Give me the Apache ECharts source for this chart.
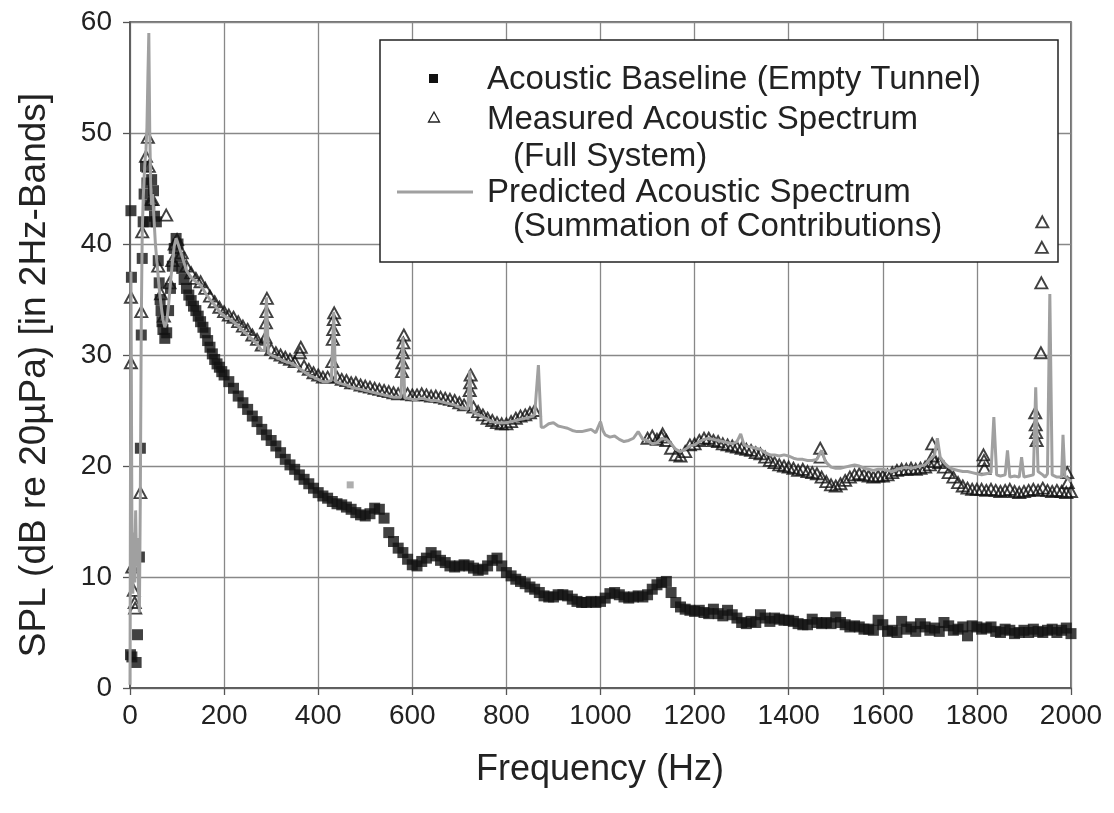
<!DOCTYPE html>
<html>
<head>
<meta charset="utf-8">
<title>SPL spectrum</title>
<script src="https://cdn.jsdelivr.net/npm/echarts@6/dist/echarts.min.js"></script>
<style>
  html, body { margin: 0; padding: 0; background: #fff; }
  #chart { width: 1114px; height: 813px; }
</style>
</head>
<body>
<div id="chart"></div>
<script>
// Frequency axis ticks (Hz) and SPL axis ticks (dB)
const freqTicks = [0, 200, 400, 600, 800, 1000, 1200, 1400, 1600, 1800, 2000];
const splTicks = [0, 10, 20, 30, 40, 50, 60];

// Acoustic baseline, empty tunnel: [frequency Hz, SPL dB]
const baseline = [
  [1,3.0],[2,43.0],[3,37.0],[4,2.8],[13,2.3],[16,4.8],[20,11.8],[22,21.6],[24,31.8],[26,38.7],
  [28,42.0],[30,44.5],[33,47.0],[36,45.5],[38,42.0],[42,43.5],[46,45.8],[50,44.8],[52,42.5],[56,42.0],
  [60,38.5],[62,36.5],[64,35.0],[66,34.0],[68,33.0],[70,32.3],[74,31.5],[78,32.0],[82,34.0],[86,36.0],
  [90,38.0],[94,39.6],[98,40.5],[102,40.0],[106,38.8],[110,37.8],[115,36.8],[120,36.0],[125,35.4],[130,34.9],
  [135,34.4],[140,34.0],[145,33.5],[150,33.0],[155,32.5],[160,32.0],[165,31.3],[170,30.7],[175,30.1],[180,29.6],
  [185,29.2],[190,28.9],[195,28.5],[200,28.2],[210,27.6],[220,27.0],[230,26.3],[240,25.7],[250,25.1],[260,24.5],
  [270,24.0],[280,23.3],[290,22.8],[300,22.3],[310,21.8],[320,21.2],[330,20.6],[340,20.1],[350,19.7],[360,19.2],
  [370,18.8],[380,18.4],[390,18.0],[400,17.6],[410,17.3],[420,17.1],[430,16.8],[440,16.6],[450,16.5],[460,16.3],
  [470,16.1],[480,15.8],[490,15.6],[500,15.5],[510,15.7],[520,16.2],[530,16.1],[540,15.3],[550,14.0],[560,13.2],
  [570,12.6],[580,12.2],[590,11.6],[600,11.1],[610,11.0],[620,11.4],[630,11.7],[640,12.2],[650,11.9],[660,11.5],
  [670,11.3],[680,11.0],[690,10.9],[700,11.0],[710,11.1],[720,11.0],[730,10.8],[740,10.6],[750,10.7],[760,11.0],
  [770,11.5],[780,11.7],[790,11.0],[800,10.4],[810,10.1],[820,9.8],[830,9.6],[840,9.4],[850,9.1],[860,8.9],
  [870,8.6],[880,8.3],[890,8.2],[900,8.2],[910,8.4],[920,8.4],[930,8.3],[940,8.0],[950,7.8],[960,7.7],
  [970,7.7],[980,7.8],[990,7.7],[1000,7.8],[1010,8.1],[1020,8.5],[1030,8.6],[1040,8.4],[1050,8.2],[1060,8.1],
  [1070,8.2],[1080,8.3],[1090,8.2],[1100,8.4],[1110,8.9],[1120,9.3],[1130,9.5],[1140,9.6],[1150,8.6],[1160,7.7],
  [1170,7.3],[1180,7.1],[1190,7.0],[1200,6.9],[1210,7.0],[1220,6.8],[1230,6.7],[1240,7.1],[1250,6.7],[1260,6.5],
  [1270,7.0],[1280,6.6],[1290,6.3],[1300,5.9],[1310,5.8],[1320,6.0],[1330,5.9],[1340,6.6],[1350,6.3],[1360,6.0],
  [1370,6.3],[1380,6.2],[1390,6.1],[1400,6.1],[1410,6.0],[1420,5.8],[1430,5.7],[1440,5.7],[1450,6.2],[1460,5.9],
  [1470,5.8],[1480,5.9],[1490,5.8],[1500,6.4],[1510,5.9],[1520,5.7],[1530,5.5],[1540,5.6],[1550,5.5],[1560,5.3],
  [1570,5.3],[1580,5.2],[1590,6.1],[1600,5.7],[1610,5.1],[1620,5.2],[1630,5.0],[1640,6.0],[1650,5.3],[1660,5.5],
  [1670,5.1],[1680,5.8],[1690,5.5],[1700,5.2],[1710,5.4],[1720,5.1],[1730,5.9],[1740,5.6],[1750,5.2],[1760,5.3],
  [1770,5.5],[1780,4.7],[1790,5.6],[1800,5.5],[1810,5.3],[1820,5.4],[1830,5.5],[1840,5.1],[1850,5.0],[1860,5.3],
  [1870,5.2],[1880,4.9],[1890,5.0],[1900,5.2],[1910,5.0],[1920,5.3],[1930,5.1],[1940,5.0],[1950,5.2],[1960,5.3],
  [1970,5.0],[1980,5.2],[1990,5.4],[2000,4.9]
];

// Measured acoustic spectrum, full system: [frequency Hz, SPL dB]
const measured = [
  [2,35.2],[2,29.3],[5,10.9],[8,8.8],[10,7.7],[11,7.2],[22,17.6],[24,33.9],[26,41.1],[34,47.9],
  [38,49.6],[40,47.0],[45,44.0],[48,44.0],[60,38.0],[66,35.5],[72,33.5],[77,42.6],[84,36.5],[90,38.5],
  [95,40.0],
  [100,40.4],[110,39.2],[120,38.0],[130,37.4],[140,36.9],[150,36.6],[160,36.0],[170,35.3],[180,34.8],[190,34.3],
  [200,33.9],[210,33.6],[220,33.4],[230,33.0],[240,32.6],[250,32.3],[260,31.8],[270,31.4],[280,30.9],
  [288,31.6],[289,32.9],[290,33.9],[291,35.1],
  [300,30.5],[310,30.2],[320,30.0],[330,29.8],[340,29.6],[350,29.4],[361,30.2],[363,30.7],[370,29.0],[380,28.7],
  [390,28.4],[400,28.2],[410,28.0],[420,28.0],
  [430,29.4],[431,31.4],[432,32.3],[433,33.2],[434,33.8],
  [440,28.0],[450,27.8],[460,27.7],[470,27.5],[480,27.5],[490,27.3],[500,27.2],[510,27.1],[520,27.0],[530,26.9],
  [540,26.8],[550,26.7],[560,26.6],[570,26.5],
  [578,28.5],[579,29.3],[580,30.2],[581,31.1],[582,31.8],
  [590,26.5],[600,26.4],[610,26.4],[620,26.5],[630,26.4],[640,26.3],[650,26.3],[660,26.2],[670,26.1],[680,26.0],
  [690,25.9],[700,25.7],[710,25.5],
  [722,26.8],[723,27.5],[724,28.2],
  [730,25.3],[740,24.9],[750,24.6],[760,24.3],[770,24.1],[780,23.9],[790,23.8],[800,23.8],[810,24.0],[820,24.3],
  [830,24.5],[840,24.6],[850,24.8],[860,25.0],
  [1100,22.5],[1110,22.7],[1120,22.4],[1130,22.6],[1132,22.9],[1140,22.3],[1150,21.6],[1160,21.0],[1170,20.9],[1180,21.3],
  [1190,21.9],[1200,22.0],[1210,22.3],[1220,22.5],[1230,22.5],[1240,22.3],[1250,22.2],[1260,22.0],[1270,21.9],[1280,21.8],
  [1290,21.7],[1300,21.6],[1310,21.5],[1320,21.4],[1330,21.2],[1340,21.1],[1350,20.8],[1360,20.5],[1370,20.3],[1380,20.1],
  [1390,20.0],[1400,19.9],[1410,19.8],[1420,19.6],[1430,19.7],[1440,19.5],[1450,19.4],[1460,19.3],[1467,21.6],[1468,20.8],
  [1470,19.0],[1480,18.6],[1490,18.3],[1500,18.2],[1510,18.4],[1520,18.7],[1530,19.0],[1540,19.2],[1550,19.3],[1560,19.2],
  [1570,19.1],[1580,19.0],[1590,19.1],[1600,19.1],[1610,19.2],[1620,19.4],[1630,19.6],[1640,19.7],[1650,19.7],[1660,19.8],
  [1670,19.7],[1680,19.8],[1690,19.9],[1700,20.1],[1705,22.0],[1706,20.9],[1710,20.4],[1720,20.3],[1730,19.9],[1740,19.4],
  [1750,19.0],[1760,18.5],[1770,18.2],[1780,18.0],[1790,17.9],[1800,17.9],[1810,17.9],[1814,21.0],[1815,20.5],[1816,19.8],
  [1820,17.8],[1830,17.9],[1840,17.8],[1850,17.7],[1860,17.8],[1870,17.9],[1880,17.7],[1890,17.6],[1900,17.7],[1910,17.8],
  [1920,17.9],[1924,24.8],[1925,23.7],[1926,23.0],[1927,22.3],[1930,17.8],[1936,30.2],[1937,36.5],[1938,39.7],[1939,42.0],
  [1940,18.0],[1950,17.8],[1960,17.7],[1970,17.8],[1980,17.7],[1990,17.6],[1992,19.4],[1993,18.5],[2000,17.7]
];

// Predicted acoustic spectrum, summation of contributions: [frequency Hz, SPL dB]
const predicted = [
  [0,0.3],[2,37.5],[4,15.8],[6,8.5],[8,14.0],[10,9.5],[12,16.0],[14,11.0],[16,13.5],[18,9.0],
  [20,6.8],[22,17.6],[24,33.0],[26,41.0],[28,44.0],[30,46.0],[32,47.5],[34,48.5],[36,50.5],[38,55.0],
  [40,59.0],[42,50.0],[44,45.5],[46,43.5],[48,44.5],[50,43.0],[52,41.5],[54,40.0],[58,38.0],[62,36.0],
  [66,34.5],[70,33.2],[74,32.5],[78,33.0],[82,34.5],[86,36.5],[90,38.3],[94,39.8],[98,40.5],
  [100,40.3],[110,39.0],[120,37.6],[130,37.0],[140,36.6],[150,36.3],[160,35.6],[170,35.0],[180,34.5],[190,33.9],
  [200,33.5],[210,33.3],[220,33.0],[230,32.6],[240,32.2],[250,31.8],[260,31.4],[270,31.0],[280,30.4],
  [286,30.4],[290,35.2],[294,30.2],
  [300,30.0],[310,29.8],[320,29.6],[330,29.4],[340,29.3],[350,29.1],[360,28.8],[370,28.5],[380,28.2],[390,28.0],
  [400,27.8],[410,27.6],[420,27.6],[428,27.7],[433,33.9],[437,27.6],[440,27.6],[450,27.4],[460,27.3],[470,27.1],
  [480,27.0],[490,26.9],[500,26.8],[510,26.7],[520,26.6],[530,26.5],[540,26.4],[550,26.3],[560,26.2],[570,26.2],
  [576,26.2],[580,31.6],[584,26.1],[590,26.1],[600,26.0],[610,26.0],[620,26.1],[630,26.0],[640,25.9],[650,25.9],
  [660,25.8],[670,25.7],[680,25.6],[690,25.5],[700,25.3],[710,25.2],[718,25.1],[722,28.6],[726,25.0],[730,25.0],
  [740,24.6],[750,24.4],[760,24.2],[770,24.0],[780,23.9],[790,23.9],[800,23.9],[810,24.0],[820,24.1],[830,24.2],
  [840,24.3],[850,24.4],[860,24.6],[864,24.6],[868,29.1],[874,23.5],[880,23.5],[890,23.8],[900,23.9],[910,23.6],
  [920,23.5],[930,23.4],[940,23.2],[950,23.1],[960,23.1],[970,23.2],[980,23.3],[990,23.0],[1000,24.0],[1005,23.2],
  [1010,22.8],[1020,22.6],[1030,22.7],[1040,22.4],[1050,22.2],[1060,22.3],[1070,22.5],[1080,23.1],[1090,22.4],[1100,22.3],
  [1110,22.0],[1120,22.1],[1130,22.5],[1140,22.4],[1150,22.0],[1160,21.5],[1170,21.3],[1180,21.5],[1190,21.8],[1200,21.9],
  [1210,22.2],[1220,22.4],[1230,22.5],[1240,22.4],[1250,22.3],[1260,22.2],[1270,22.1],[1280,22.0],[1290,22.2],[1298,22.9],
  [1305,21.9],[1310,21.8],[1320,21.7],[1330,21.6],[1340,21.5],[1350,21.2],[1360,21.0],[1370,21.0],[1380,20.9],[1390,21.0],
  [1400,20.9],[1410,20.7],[1420,20.6],[1430,20.6],[1440,20.5],[1450,20.5],[1460,20.6],[1470,21.4],[1478,20.4],[1490,19.9],
  [1500,19.8],[1510,19.8],[1520,19.9],[1530,20.0],[1540,20.1],[1550,20.0],[1560,19.8],[1570,19.7],[1580,19.6],[1590,19.7],
  [1600,19.7],[1610,19.6],[1620,19.5],[1630,19.7],[1640,19.8],[1650,19.9],[1660,19.8],[1670,19.9],[1680,20.0],[1690,20.1],
  [1700,20.6],[1710,21.0],[1716,22.5],[1722,20.8],[1730,20.3],[1740,19.9],[1750,19.7],[1760,19.6],[1770,19.5],[1780,19.5],
  [1790,19.4],[1800,19.3],[1810,19.2],[1820,19.3],[1830,19.4],[1836,24.4],[1842,19.2],[1850,19.1],[1860,19.2],[1865,21.4],
  [1870,19.0],[1880,19.1],[1890,19.0],[1895,20.8],[1900,19.0],[1910,19.1],[1920,19.2],[1925,27.1],[1930,19.5],[1940,19.2],
  [1945,19.0],[1950,19.3],[1955,35.5],[1960,19.2],[1970,19.0],[1980,19.0],[1983,22.8],[1987,19.1],[2000,18.6]
];

// Single stray grey reading near 470 Hz
const strayPoint = [[468, 18.3]];

const seriesNames = [
  'Acoustic Baseline (Empty Tunnel)',
  'Measured Acoustic Spectrum',
  'Predicted Acoustic Spectrum'
];
const legendSubLines = ['(Full System)', '(Summation of Contributions)'];

const FONT = '"Liberation Sans", Arial, sans-serif';
const chart = echarts.init(document.getElementById('chart'), null, { renderer: 'canvas' });

// Legend panel sits above the grid lines but beneath the data marks
const LEGEND_Z = 1;

const option = {
  animation: false,
  backgroundColor: '#ffffff',
  grid: {
    left: 130, top: 22, width: 941, height: 666,
    show: true, borderColor: '#444', borderWidth: 1.5, backgroundColor: 'transparent'
  },
  xAxis: {
    type: 'value',
    min: freqTicks[0], max: freqTicks[freqTicks.length - 1], interval: 200,
    axisLine: { show: true, onZero: false, lineStyle: { color: '#555', width: 1.5 } },
    axisTick: { show: true, inside: false, length: 7, lineStyle: { color: '#555', width: 1.3 } },
    axisLabel: { margin: 14, color: '#222', fontSize: 28, fontFamily: FONT,
                 formatter: v => String(v) },
    splitLine: { show: true, lineStyle: { color: '#888', width: 1.3 } }
  },
  yAxis: {
    type: 'value',
    min: splTicks[0], max: splTicks[splTicks.length - 1], interval: 10,
    axisLine: { show: true, lineStyle: { color: '#555', width: 1.5 } },
    axisTick: { show: true, inside: false, length: 7, lineStyle: { color: '#555', width: 1.3 } },
    axisLabel: { margin: 18, color: '#222', fontSize: 28, fontFamily: FONT,
                 formatter: v => String(v) },
    splitLine: { show: true, lineStyle: { color: '#888', width: 1.3 } }
  },
  series: [
    {
      name: seriesNames[0],
      type: 'scatter',
      data: baseline,
      symbol: 'rect',
      symbolSize: 11,
      itemStyle: { color: '#111' },
      z: 2
    },
    {
      name: 'stray',
      type: 'scatter',
      data: strayPoint,
      symbol: 'rect',
      symbolSize: 7,
      itemStyle: { color: '#9a9a9a' },
      z: 2
    },
    {
      name: seriesNames[1],
      type: 'scatter',
      data: measured,
      symbol: 'triangle',
      symbolSize: [12, 11],
      itemStyle: { color: 'rgba(255,255,255,0)', borderColor: '#111', borderWidth: 1.9 },
      z: 3
    },
    {
      name: seriesNames[2],
      type: 'line',
      data: predicted,
      showSymbol: false,
      symbol: 'none',
      lineStyle: { color: '#a0a0a0', width: 3 },
      z: 4
    }
  ],
  graphic: [
    // axis titles
    {
      type: 'text', x: 600, y: 770, z: 50,
      style: { text: 'Frequency (Hz)', font: '36px ' + FONT, fill: '#222',
               textAlign: 'center', textVerticalAlign: 'middle' }
    },
    {
      type: 'text', x: 35, y: 375, rotation: Math.PI / 2, z: 50,
      style: { text: 'SPL (dB re 20µPa) [in 2Hz-Bands]', font: '37px ' + FONT, fill: '#222',
               textAlign: 'center', textVerticalAlign: 'middle' }
    },
    // legend box
    {
      type: 'rect', z: LEGEND_Z, z2: 0,
      shape: { x: 380, y: 40, width: 678, height: 222 },
      style: { fill: '#ffffff', stroke: '#222', lineWidth: 1.5 }
    },
    {
      type: 'rect', z: LEGEND_Z, z2: 10,
      shape: { x: 429, y: 74, width: 9, height: 9 },
      style: { fill: '#111' }
    },
    {
      type: 'polygon', z: LEGEND_Z, z2: 10,
      shape: { points: [[434, 112], [428.5, 122], [439.5, 122]] },
      style: { fill: 'none', stroke: '#222', lineWidth: 1.3 }
    },
    {
      type: 'line', z: LEGEND_Z, z2: 10,
      shape: { x1: 397, y1: 192, x2: 473, y2: 192 },
      style: { stroke: '#a0a0a0', lineWidth: 3 }
    },
    {
      type: 'text', x: 487, y: 80, z: LEGEND_Z, z2: 10,
      style: { text: seriesNames[0], font: '33px ' + FONT, fill: '#222', textVerticalAlign: 'middle' }
    },
    {
      type: 'text', x: 487, y: 120, z: LEGEND_Z, z2: 10,
      style: { text: seriesNames[1], font: '33px ' + FONT, fill: '#222', textVerticalAlign: 'middle' }
    },
    {
      type: 'text', x: 513, y: 157, z: LEGEND_Z, z2: 10,
      style: { text: legendSubLines[0], font: '33px ' + FONT, fill: '#222', textVerticalAlign: 'middle' }
    },
    {
      type: 'text', x: 487, y: 193, z: LEGEND_Z, z2: 10,
      style: { text: seriesNames[2], font: '33px ' + FONT, fill: '#222', textVerticalAlign: 'middle' }
    },
    {
      type: 'text', x: 513, y: 227, z: LEGEND_Z, z2: 10,
      style: { text: legendSubLines[1], font: '33px ' + FONT, fill: '#222', textVerticalAlign: 'middle' }
    }
  ]
};

chart.setOption(option);
</script>
</body>
</html>
